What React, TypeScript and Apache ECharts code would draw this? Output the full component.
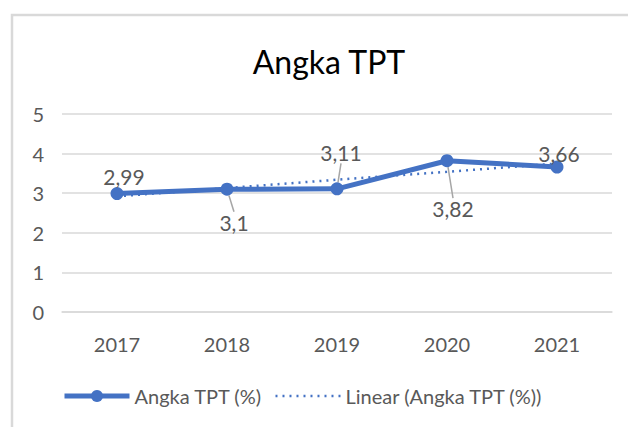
import React, { useEffect, useRef } from "react";
import * as echarts from "echarts";

const categories = ["2017", "2018", "2019", "2020", "2021"];
const tptValues = [2.99, 3.1, 3.11, 3.82, 3.66];
const trendValues = [2.92, 3.13, 3.34, 3.54, 3.75];
const labelShift = [
  [7, -17],
  [7, 33],
  [4, -36],
  [6, 48],
  [2, -14],
];
const showLeader = [false, true, true, true, false];

const FONT = "Lato, 'Open Sans', sans-serif";
const BLUE = "#4472c4";
const GRAY_TEXT = "#595959";

export default function App() {
  const ref = useRef<HTMLDivElement>(null);
  useEffect(() => {
    const chart = echarts.init(ref.current!, undefined, { renderer: "svg" });
    chart.setOption({
      animation: false,
      backgroundColor: "#ffffff",
      textStyle: { fontFamily: FONT },
      title: {
        text: "Angka TPT",
        left: 324,
        top: 40,
        textAlign: "center",
        textStyle: { fontFamily: FONT, fontSize: 32, fontWeight: "normal", color: "#000000" },
      },
      graphic: [
        {
          type: "rect",
          shape: { x: 12, y: 15, width: 640, height: 440 },
          style: { fill: "none", stroke: "#d9d9d9", lineWidth: 2.5 },
          silent: true,
        },
      ],
      grid: { left: 62, right: 16, top: 114, bottom: 115 },
      legend: {
        bottom: 21,
        left: 62,
        padding: 0,
        itemWidth: 65,
        itemHeight: 15,
        itemGap: 12,
        textStyle: { fontFamily: FONT, fontSize: 20, color: GRAY_TEXT },
        data: [
          { name: "Angka TPT (%)", lineStyle: { width: 5 } },
          { name: "Linear (Angka TPT (%))", lineStyle: { width: 2.5 }, itemStyle: { opacity: 0 } },
        ],
      },
      xAxis: {
        type: "category",
        data: categories,
        axisLine: { lineStyle: { color: "#d9d9d9", width: 1.5 } },
        axisTick: { show: false },
        axisLabel: { fontFamily: FONT, fontSize: 20, color: GRAY_TEXT, margin: 22 },
      },
      yAxis: {
        type: "value",
        min: 0,
        max: 5,
        interval: 1,
        axisLine: { show: false },
        axisTick: { show: false },
        axisLabel: { fontFamily: FONT, fontSize: 20, color: GRAY_TEXT, margin: 18 },
        splitLine: { lineStyle: { color: "#d9d9d9", width: 1.5 } },
      },
      series: [
        {
          name: "Linear (Angka TPT (%))",
          type: "line",
          data: trendValues,
          symbol: "none",
          lineStyle: { color: BLUE, width: 2.5, type: [2, 5] },
          itemStyle: { color: BLUE, opacity: 0 },
          z: 1,
        },
        {
          name: "Angka TPT (%)",
          type: "line",
          data: tptValues.map((v, i) => ({
            value: v,
            labelLine: { show: showLeader[i] },
          })),
          symbol: "circle",
          symbolSize: 13,
          lineStyle: { color: BLUE, width: 5 },
          itemStyle: { color: BLUE },
          z: 3,
          label: {
            show: true,
            position: "inside",
            fontFamily: FONT,
            fontSize: 21,
            color: GRAY_TEXT,
            formatter: (p: any) => String(p.value).replace(".", ","),
          },
          labelLine: {
            show: true,
            lineStyle: { color: "#a6a6a6", width: 1.5 },
          },
          labelLayout: (p: any) => ({
            dx: labelShift[p.dataIndex][0],
            dy: labelShift[p.dataIndex][1],
          }),
        },
      ],
    });
    return () => chart.dispose();
  }, []);
  return (
    <div
      ref={ref}
      style={{ position: "fixed", left: 0, top: 0, width: 628, height: 427 }}
    />
  );
}
